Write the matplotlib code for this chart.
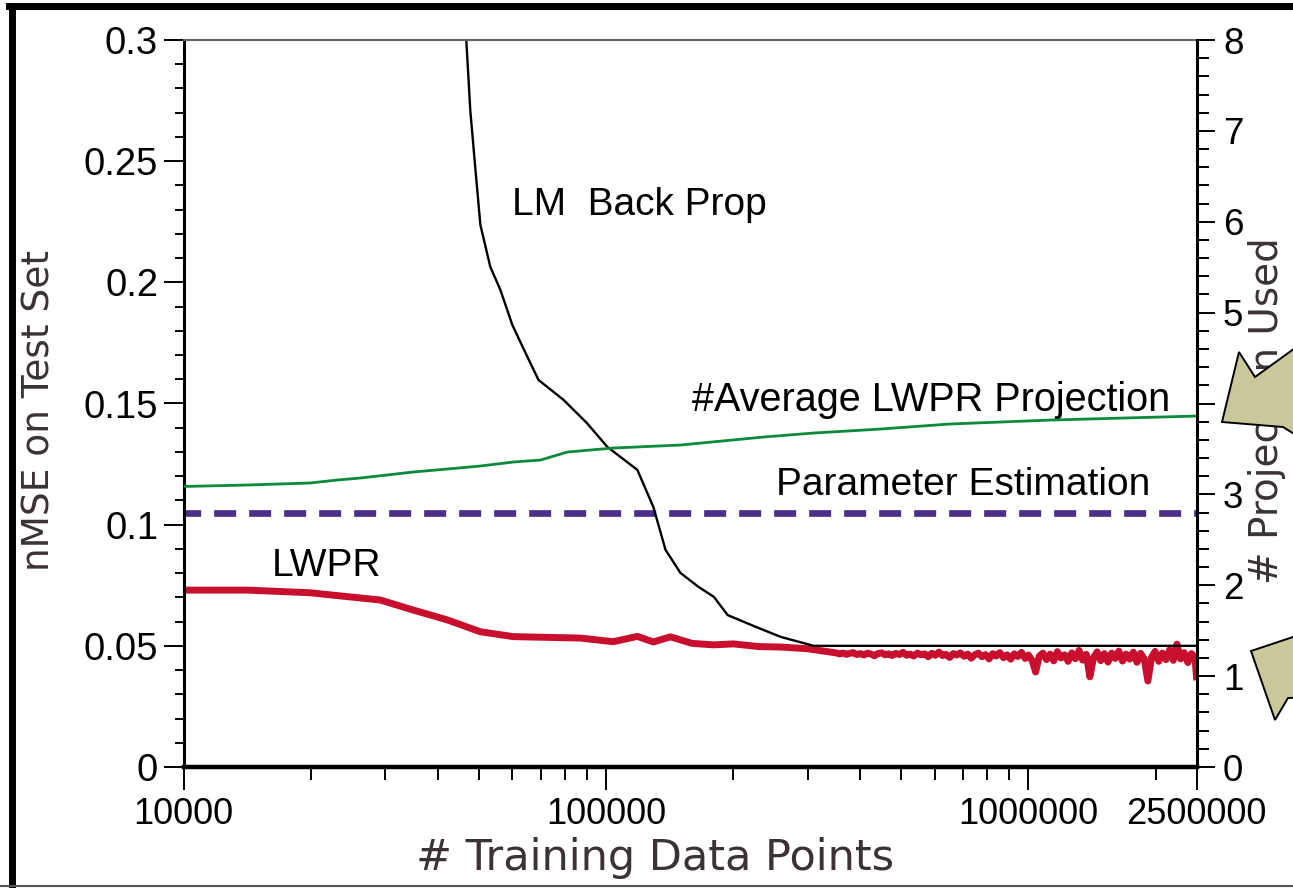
import matplotlib
matplotlib.use('Agg')
import matplotlib.pyplot as plt
from matplotlib.patches import Polygon
from matplotlib.lines import Line2D
from matplotlib.ticker import FixedLocator, NullFormatter, MultipleLocator

plt.rcParams['font.family'] = ['Liberation Sans', 'DejaVu Sans']

# LM back prop (nMSE)
bp_x = [46500, 47700, 49000, 50400, 53200, 56200, 60000, 64000, 69200, 79300, 90000,
        100700, 118600, 129400, 138300, 150000, 165000, 180000, 194000, 225000,
        259000, 310000, 2500000]
bp_y = [0.305, 0.271, 0.2476, 0.2237, 0.2064, 0.1969, 0.1824, 0.1720, 0.1597, 0.1515,
        0.1420, 0.1321, 0.1226, 0.1073, 0.0896, 0.0801, 0.0745, 0.0702, 0.0627, 0.0580,
        0.0537, 0.0500, 0.0500]

# LWPR (nMSE), smooth start then noisy tail
lwpr_x = [10000, 14130, 19900, 23500, 29200, 34900, 42100, 50400, 60300, 87000,
          104000, 118600, 129400, 142000, 160000, 180000, 200000, 230000, 259000, 300000,
          350000, 357000, 364000, 371000, 378000, 385000, 392000, 400000, 408000, 416000,
          424000, 432000, 440000, 449000, 458000, 467000, 476000, 485000, 495000, 505000,
          515000, 525000, 535000, 546000, 557000, 568000, 579000, 590000, 602000, 614000,
          626000, 638000, 651000, 664000, 677000, 690000, 704000, 718000, 732000, 746000,
          761000, 776000, 791000, 807000, 823000, 839000, 856000, 873000, 890000, 908000,
          926000, 944000, 963000, 982000, 1000000, 1020000, 1040000, 1061000, 1082000, 1104000,
          1126000, 1148000, 1171000, 1194000, 1218000, 1242000, 1267000, 1292000, 1318000, 1344000,
          1371000, 1398000, 1426000, 1454000, 1483000, 1513000, 1543000, 1574000, 1605000, 1637000,
          1670000, 1703000, 1737000, 1772000, 1807000, 1843000, 1880000, 1918000, 1956000, 1995000,
          2035000, 2076000, 2117000, 2160000, 2203000, 2247000, 2292000, 2338000, 2385000, 2432000,
          2480000, 2500000]
lwpr_y = [0.0730, 0.0730, 0.0719, 0.0706, 0.0689, 0.0648, 0.0607, 0.0558, 0.0538, 0.0532,
          0.0517, 0.0539, 0.0516, 0.0537, 0.0510, 0.0504, 0.0508, 0.0497, 0.0495, 0.0488,
          0.0471, 0.0467, 0.0470, 0.0465, 0.0469, 0.0472, 0.0464, 0.0468, 0.0462, 0.0470,
          0.0466, 0.0459, 0.0468, 0.0471, 0.0463, 0.0467, 0.0460, 0.0469, 0.0464, 0.0473,
          0.0461, 0.0466, 0.0458, 0.0470, 0.0463, 0.0467, 0.0455, 0.0469, 0.0461, 0.0474,
          0.0460, 0.0465, 0.0452, 0.0468, 0.0462, 0.0471, 0.0457, 0.0466, 0.0449, 0.0463,
          0.0470, 0.0455, 0.0464, 0.0446, 0.0468, 0.0458, 0.0472, 0.0451, 0.0463, 0.0445,
          0.0467, 0.0456, 0.0473, 0.0448, 0.0462, 0.0440, 0.0392, 0.0458, 0.0470, 0.0443,
          0.0466, 0.0438, 0.0476, 0.0450, 0.0463, 0.0436, 0.0471, 0.0447, 0.0481, 0.0441,
          0.0465, 0.0372, 0.0452, 0.0475, 0.0439, 0.0468, 0.0433, 0.0470, 0.0448, 0.0478,
          0.0437, 0.0466, 0.0445, 0.0474, 0.0432, 0.0469, 0.0446, 0.0355, 0.0452, 0.0477,
          0.0436, 0.0470, 0.0443, 0.0484, 0.0440, 0.0507, 0.0446, 0.0472, 0.0431, 0.0468,
          0.0449, 0.0372]

# Average number of LWPR projections (right axis)
proj_x = [10000, 14130, 19900, 23100, 26200, 30300, 34900, 42100, 50400, 60300,
          70000, 81000, 104000, 150000, 236000, 310000, 447000, 650000, 1130000, 2500000]
proj_y = [3.087, 3.103, 3.125, 3.158, 3.180, 3.213, 3.246, 3.279, 3.312, 3.356,
          3.378, 3.466, 3.510, 3.543, 3.631, 3.675, 3.719, 3.774, 3.818, 3.862]

# Parameter estimation (nMSE)
pe_x = [10000, 2500000]
pe_y = [0.1048, 0.1048]

x_major = [10000, 100000, 1000000, 2500000]
x_major_labels = ['10000', '100000', '1000000', '2500000']
x_minor = [20000, 30000, 40000, 50000, 60000, 70000, 80000, 90000,
           200000, 300000, 400000, 500000, 600000, 700000, 800000, 900000, 2000000]
y_major = [0, 0.05, 0.1, 0.15, 0.2, 0.25, 0.3]
y_major_labels = ['0', '0.05', '0.1', '0.15', '0.2', '0.25', '0.3']

W, H = 1293, 888
fig = plt.figure(figsize=(W / 100, H / 100), dpi=100)
ax = fig.add_axes([183.7 / W, 1 - 767 / H, (1196.5 - 183.7) / W, (767 - 40) / H])
ax2 = ax.twinx()

label_col = '#3a3236'
label_font = ['DejaVu Sans']

ax.plot(pe_x, pe_y, color='#4b2d8a', lw=4.8, linestyle=(0.8, (3.3, 1.95)),
        dash_capstyle='butt')
ax.plot(lwpr_x, lwpr_y, color='#c8102e', lw=5)
ax.plot(bp_x, bp_y, color='black', lw=1.7)
ax2.plot(proj_x, proj_y, color='#0a8a3a', lw=2.0)

ax.set_xscale('log')
ax.set_xlim(10000, 2500000)
ax.set_ylim(0, 0.3)
ax2.set_ylim(0, 8)

ax.xaxis.set_major_locator(FixedLocator(x_major))
ax.set_xticklabels(x_major_labels)
ax.xaxis.set_minor_locator(FixedLocator(x_minor))
ax.xaxis.set_minor_formatter(NullFormatter())
ax.set_yticks(y_major)
ax.set_yticklabels(y_major_labels)
ax.yaxis.set_minor_locator(MultipleLocator(0.01))
ax2.yaxis.set_major_locator(MultipleLocator(1))
ax2.yaxis.set_minor_locator(MultipleLocator(0.2))

ax.tick_params(axis='y', which='major', direction='out', length=14.4, width=1.4,
               labelsize=27.5, pad=4)
ax.tick_params(axis='y', which='minor', direction='out', length=6.5, width=1.4)
ax.tick_params(axis='x', which='major', direction='out', length=16.5, width=1.4,
               labelsize=26, pad=5)
ax.tick_params(axis='x', which='minor', direction='out', length=9.4, width=1.4)
ax.tick_params(right=False, which='both')
ax2.tick_params(axis='y', which='major', direction='out', length=13, width=1.4,
                labelsize=26.5, pad=6)
ax2.tick_params(axis='y', which='minor', direction='out', length=8.6, width=1.4)

ax.spines['left'].set_linewidth(2.2)
ax.spines['bottom'].set_linewidth(3.2)
ax.spines['top'].set_linewidth(1.5)
ax.spines['top'].set_color('#666666')
ax.spines['right'].set_visible(False)
for s in ['left', 'top', 'bottom']:
    ax2.spines[s].set_visible(False)
ax2.spines['right'].set_linewidth(2.2)

ax.set_xlabel('# Training Data Points', fontsize=31, color=label_col, va='center',
              family=label_font)
ax.xaxis.set_label_coords(0.465, -0.125)
ax.set_ylabel('nMSE on Test Set', fontsize=27, color=label_col, va='center',
              family=label_font)
ax.yaxis.set_label_coords(-0.1419, 0.491)
ax2.set_ylabel('# Projection Used', fontsize=28, color=label_col, va='center',
               rotation=90, family=label_font)
ax2.yaxis.set_label_coords((1267 - 183.7) / (1196.5 - 183.7), 0.49)

ax.text(60000, 0.232, 'LM  Back Prop', fontsize=28, va='center', ha='left')
ax.text(16200, 0.083, 'LWPR', fontsize=28, va='center', ha='left')
ax.text(160000, 0.1515, '#Average LWPR Projection', fontsize=28.5, va='center', ha='left')
ax.text(252000, 0.1164, 'Parameter Estimation', fontsize=28, va='center', ha='left')


def fpt(pts):
    return [(px / W, 1 - py / H) for px, py in pts]


# callout arrows at the right edge
arrow_face = '#c8c89a'
upper_arrow = [(1222, 422), (1239, 352), (1255, 377), (1320, 330), (1320, 450), (1283, 427)]
lower_arrow = [(1251, 651), (1320, 628), (1320, 697), (1288, 698), (1275, 720)]
for shape in (upper_arrow, lower_arrow):
    fig.patches.append(Polygon(fpt(shape), closed=True, facecolor=arrow_face,
                               edgecolor='black', lw=1.4, transform=fig.transFigure,
                               zorder=10))

# frame lines of the slide
fig.lines.append(Line2D([12 / W, 12 / W], [0, 1 - 6 / H], color='black', lw=5,
                        transform=fig.transFigure))
fig.lines.append(Line2D([9 / W, 1], [1 - 6 / H, 1 - 6 / H], color='black', lw=5,
                        transform=fig.transFigure))
fig.lines.append(Line2D([0, 1], [1 - 886 / H, 1 - 886 / H], color='#555555', lw=1.5,
                        transform=fig.transFigure))

fig.savefig('out.png', dpi=100)
